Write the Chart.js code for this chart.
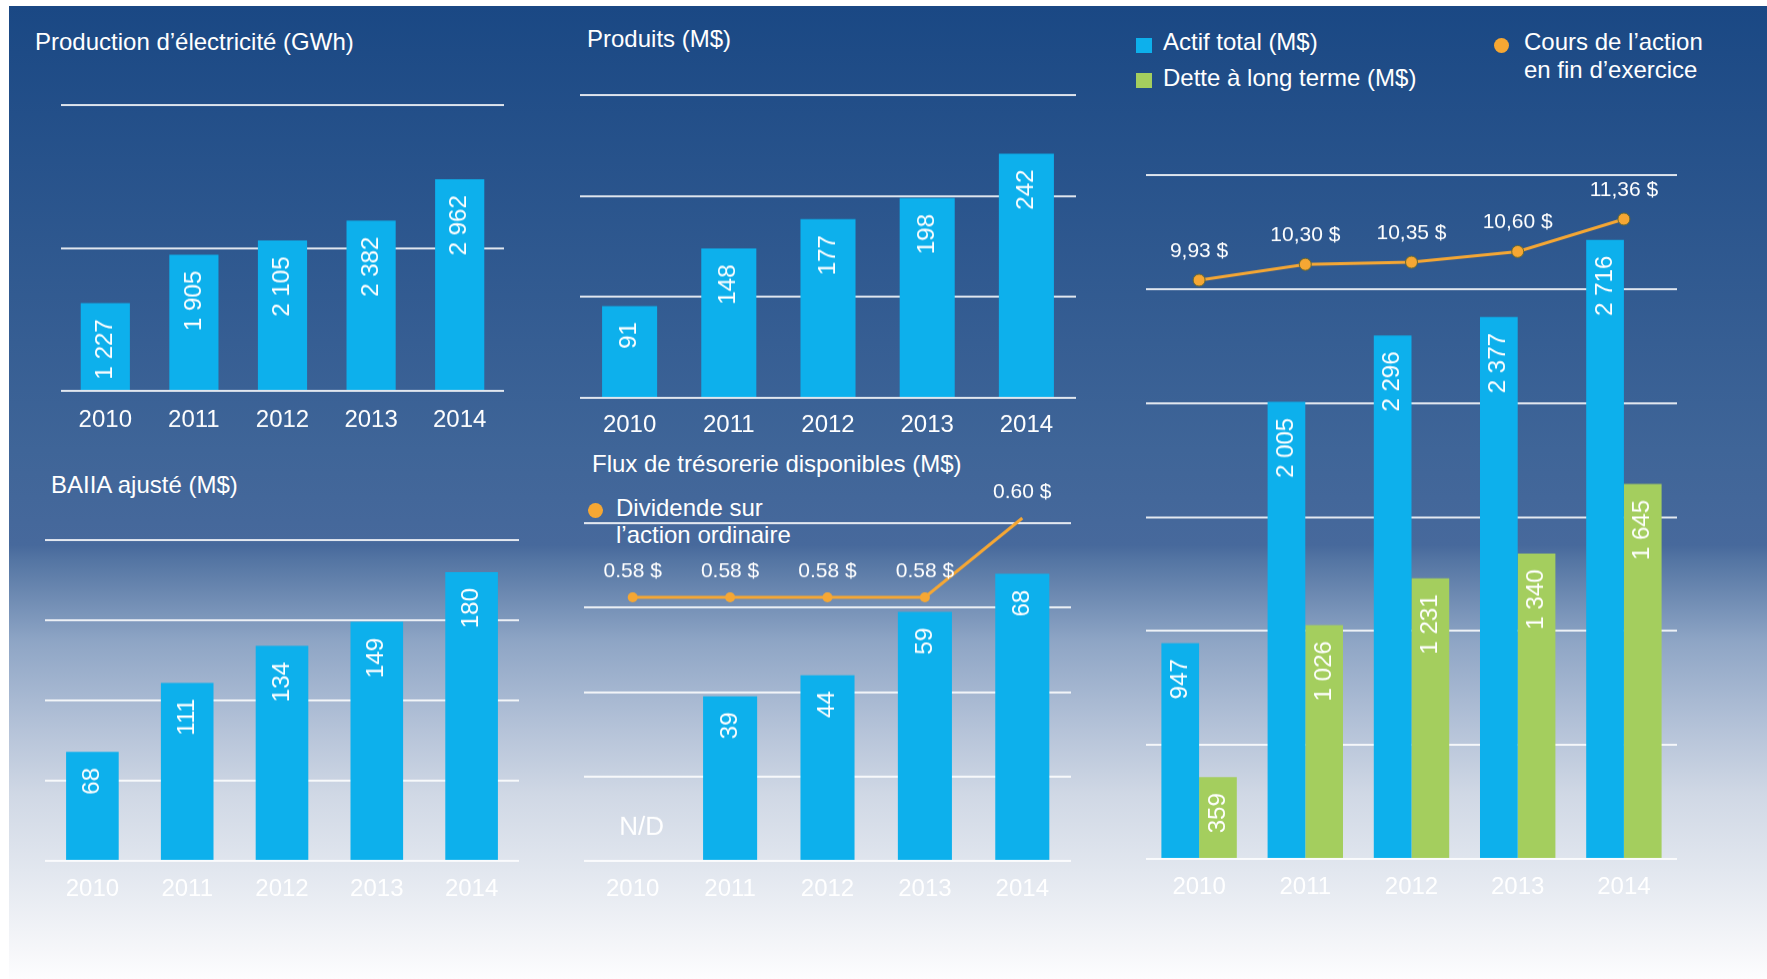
<!DOCTYPE html>
<html lang="fr">
<head>
<meta charset="utf-8">
<title>Faits saillants 2010–2014</title>
<script src="https://cdn.jsdelivr.net/npm/chart.js@4.4.1/dist/chart.umd.min.js"></script>
<style>
html, body { margin: 0; padding: 0; background: #fff; width: 1767px; height: 979px; overflow: hidden; }
body { position: relative; font-family: "Liberation Sans", Arial, sans-serif; color: #fff; }
#bg { position: absolute; left: 9px; top: 6px; width: 1758px; height: 973px;
  background: linear-gradient(to bottom, #1a4884 0px, #3f6598 444px, #47699c 539px, #5475a3 554px,
    #8ea5c5 635px, #b0bfd6 712px, #d0d8e5 789px, #e2e7ef 865px, #f5f6f9 942px, #fdfdfe 973px); }
.t { position: absolute; font-size: 24px; line-height: 28px; white-space: nowrap; }
.box { position: absolute; }
.sq { position: absolute; width: 16px; height: 15px; }
.dot { position: absolute; width: 15px; height: 15px; border-radius: 50%; background: #f6a733; }
</style>
</head>
<body>
<div id="bg"></div>

<div class="t" style="left:35px;top:28px">Production d’électricité (GWh)</div>
<div class="t" style="left:587px;top:25px">Produits (M$)</div>
<div class="t" style="left:51px;top:471px">BAIIA ajusté (M$)</div>
<div class="t" style="left:592px;top:450px">Flux de trésorerie disponibles (M$)</div>

<div class="sq" style="left:1136px;top:38px;background:#0db0ec"></div>
<div class="t" style="left:1163px;top:28px">Actif total (M$)</div>
<div class="sq" style="left:1136px;top:73px;background:#a4ce5e"></div>
<div class="t" style="left:1163px;top:64px">Dette à long terme (M$)</div>
<div class="dot" style="left:1494px;top:38px"></div>
<div class="t" style="left:1524px;top:28px">Cours de l’action<br>en fin d’exercice</div>

<div class="dot" style="left:588px;top:503px"></div>
<div class="t" style="left:616px;top:494px;line-height:27px">Dividende sur<br>l’action ordinaire</div>

<div class="box" id="c1"><canvas></canvas></div>
<div class="box" id="c2"><canvas></canvas></div>
<div class="box" id="c3"><canvas></canvas></div>
<div class="box" id="c4"><canvas></canvas></div>
<div class="box" id="c5"><canvas></canvas></div>

<script>
// données
const years = ["2010", "2011", "2012", "2013", "2014"];
const production = [1227, 1905, 2105, 2382, 2962];   // GWh
const produits = [91, 148, 177, 198, 242];           // M$
const baiia = [68, 111, 134, 149, 180];              // M$
const flux = [null, 39, 44, 59, 68];                 // M$, 2010 = N/D
const dividende = [0.58, 0.58, 0.58, 0.58, 0.60];    // $
const actifTotal = [947, 2005, 2296, 2377, 2716];    // M$
const detteLT = [359, 1026, 1231, 1340, 1645];       // M$
const coursAction = [9.93, 10.30, 10.35, 10.60, 11.36]; // $

const BLUE = "#0db0ec", GREEN = "#a4ce5e", ORANGE = "#f6a733";
const GRID = "rgba(255,255,255,0.85)";
const FONT = '"Liberation Sans", Arial, sans-serif';

Chart.defaults.font.family = FONT;
Chart.defaults.color = "#ffffff";
Chart.defaults.animation = false;

function fmtInt(v) {
  return String(v).replace(/\B(?=(\d{3})+(?!\d))/g, " ");
}

// étiquettes de valeur : verticales dans les barres, au-dessus des points
const valueLabels = {
  id: "valueLabels",
  afterDatasetsDraw(chart, args, opts) {
    const ctx = chart.ctx;
    const xs = chart.scales.x;
    ctx.save();
    ctx.fillStyle = "#ffffff";
    chart.data.datasets.forEach((ds, i) => {
      const meta = chart.getDatasetMeta(i);
      meta.data.forEach((el, j) => {
        const v = ds.data[j];
        if (meta.type === "bar") {
          if (v == null) {
            if (!opts.missing) return;
            ctx.font = "26px " + FONT;
            ctx.textAlign = "center";
            ctx.textBaseline = "middle";
            ctx.fillText(opts.missing, xs.getPixelForValue(j) + 9, chart.chartArea.bottom - 33);
            return;
          }
          ctx.save();
          ctx.translate(el.x, el.y + 16);
          ctx.rotate(-Math.PI / 2);
          ctx.font = "24px " + FONT;
          ctx.textAlign = "right";
          ctx.textBaseline = "middle";
          ctx.fillText(fmtInt(v), 0, 0);
          ctx.restore();
        } else {
          ctx.font = "21px " + FONT;
          ctx.textAlign = "center";
          ctx.textBaseline = "middle";
          ctx.fillText(v.toFixed(2).replace(".", opts.sep || ".") + " $", el.x, el.y - (opts.offset || 28));
        }
      });
    });
    ctx.restore();
  }
};

function barChart(id, box, cfg) {
  const padTop = cfg.padTop || 4;
  const tickPad = cfg.tickPad || 14;
  const wrap = document.getElementById(id);
  wrap.style.left = box.x0 + "px";
  wrap.style.top = (box.top - padTop) + "px";
  wrap.style.width = (box.x1 - box.x0) + "px";
  wrap.style.height = (padTop + box.base - box.top + 24 * 1.2 + 2 * tickPad) + "px";

  const scales = {
    x: {
      offset: true,
      grid: { display: false, drawTicks: false },
      border: { display: false },
      ticks: { color: "#ffffff", font: { size: 24 }, padding: tickPad }
    },
    y: {
      min: 0, max: cfg.max,
      ticks: { stepSize: cfg.step, display: false },
      grid: { color: GRID, lineWidth: 2, drawTicks: false },
      border: { display: false }
    }
  };
  if (cfg.y2) scales.y2 = { display: false, min: cfg.y2[0], max: cfg.y2[1] };

  return new Chart(wrap.querySelector("canvas"), {
    type: "bar",
    data: { labels: years, datasets: cfg.datasets },
    options: {
      responsive: true,
      maintainAspectRatio: false,
      layout: { autoPadding: false, padding: { top: padTop, left: 0, right: 0, bottom: 0 } },
      datasets: { bar: { categoryPercentage: cfg.catPct || 0.555, barPercentage: 1 } },
      plugins: {
        legend: { display: false },
        tooltip: { enabled: false },
        valueLabels: { sep: cfg.sep, missing: cfg.missing, offset: cfg.labelOffset }
      },
      scales
    },
    plugins: [valueLabels]
  });
}

function bars(data, color) {
  return { type: "bar", data, backgroundColor: color, borderWidth: 0, order: 1 };
}

barChart("c1", { x0: 61, x1: 504, top: 105, base: 390 }, {
  max: 4000, step: 2000, tickPad: 15,
  datasets: [bars(production, BLUE)]
});

barChart("c2", { x0: 580, x1: 1076, top: 95, base: 397 }, {
  max: 300, step: 100, tickPad: 13,
  datasets: [bars(produits, BLUE)]
});

barChart("c3", { x0: 45, x1: 519, top: 540, base: 860 }, {
  max: 200, step: 50, tickPad: 14,
  datasets: [bars(baiia, BLUE)]
});

barChart("c4", { x0: 584, x1: 1071, top: 523, base: 860 }, {
  max: 80, step: 20, tickPad: 14, padTop: 55,
  y2: [0.513418, 0.598734], sep: ".", missing: "N/D", labelOffset: 26,
  datasets: [
    { type: "line", data: dividende, yAxisID: "y2", borderColor: ORANGE, borderWidth: 3,
      pointRadius: 5, pointBackgroundColor: ORANGE, pointBorderWidth: 0, clip: false, order: 0 },
    bars(flux, BLUE)
  ]
});

barChart("c5", { x0: 1146, x1: 1677, top: 175, base: 858 }, {
  max: 3000, step: 500, tickPad: 14, catPct: 0.71,
  y2: [-3.619, 12.391], sep: ",", labelOffset: 29,
  datasets: [
    { type: "line", data: coursAction, yAxisID: "y2", borderColor: ORANGE, borderWidth: 3,
      pointRadius: 6, pointBackgroundColor: ORANGE, pointBorderColor: "#6b6a2a",
      pointBorderWidth: 1, clip: false, order: 0 },
    bars(actifTotal, BLUE),
    bars(detteLT, GREEN)
  ]
});
</script>
</body>
</html>
